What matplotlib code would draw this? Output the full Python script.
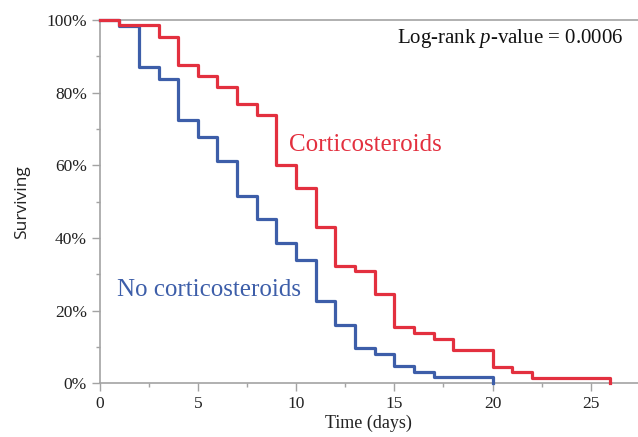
import matplotlib
matplotlib.use("Agg")
import matplotlib.pyplot as plt
from matplotlib.ticker import MultipleLocator, FuncFormatter

plt.rcParams["mathtext.fontset"] = "custom"
plt.rcParams["mathtext.rm"] = "Liberation Serif"
plt.rcParams["mathtext.it"] = "Liberation Serif:italic"

# Data (survival in %)
cort_days = [0, 1, 3, 4, 5, 6, 7, 8, 9, 10, 11, 12, 13, 14, 15, 16, 17, 18, 20, 21, 22, 26]
cort_surv = [100, 98.5, 95.4, 87.7, 84.6, 81.5, 76.9, 73.8, 60.0, 53.8, 43.1, 32.3, 30.8,
             24.6, 15.4, 13.8, 12.3, 9.2, 4.6, 3.1, 1.5, 0]
nocort_days = [0, 1, 2, 3, 4, 5, 6, 7, 8, 9, 10, 11, 12, 13, 14, 15, 16, 17, 20]
nocort_surv = [100, 98.4, 87.1, 83.9, 72.6, 67.7, 61.3, 51.6, 45.2, 38.7, 33.9, 22.6, 16.1,
               9.7, 8.1, 4.8, 3.2, 1.6, 0]
x_ticks = [0, 5, 10, 15, 20, 25]
y_ticks = [0, 20, 40, 60, 80, 100]

RED = "#e3303f"
BLUE = "#3d5ea9"
GRAY = "#a3a3a3"
SERIF = ["Liberation Serif", "DejaVu Serif"]

fig = plt.figure(figsize=(6.38, 4.37), dpi=100)
ax = fig.add_axes([0.1561, 0.1229, 0.8439, 0.8313])

ax.step(nocort_days, nocort_surv, where="post", color=BLUE, lw=2.3, clip_on=False, zorder=3)
ax.step(cort_days, cort_surv, where="post", color=RED, lw=2.3, clip_on=False, zorder=4)

ax.set_xlim(0, 27.4)
ax.set_ylim(0, 100)

ax.xaxis.set_minor_locator(MultipleLocator(2.5))
ax.yaxis.set_minor_locator(MultipleLocator(10))
ax.set_xticks(x_ticks)
ax.set_yticks(y_ticks)
ax.yaxis.set_major_formatter(FuncFormatter(lambda v, p: f"{int(v)}%"))

ax.spines["right"].set_visible(False)
for s in ["left", "bottom", "top"]:
    ax.spines[s].set_color(GRAY)
    ax.spines[s].set_linewidth(1.2)

ax.tick_params(axis="both", which="major", direction="out", length=6, width=1, color=GRAY,
               labelsize=12.5, labelcolor="#222222", pad=3)
ax.tick_params(axis="both", which="minor", direction="out", length=3, width=1, color=GRAY)
for lab in ax.get_xticklabels() + ax.get_yticklabels():
    lab.set_family(SERIF)

ax.set_xlabel("Time (days)", family=SERIF, fontsize=13, color="#222222", labelpad=2)
ax.set_ylabel("Surviving", family=["Open Sans", "DejaVu Sans"], fontsize=12.5, color="#222222", labelpad=12)

ax.text(9.64, 65.6, "Corticosteroids", color=RED, family=SERIF, fontsize=18,
        ha="left", va="center")
ax.text(0.87, 25.7, "No corticosteroids", color=BLUE, family=SERIF, fontsize=18,
        ha="left", va="center")
ax.text(26.65, 95, "Log-rank $\\mathit{p}$-value = 0.0006", color="#111111", family=SERIF,
        fontsize=15, ha="right", va="center")

fig.savefig("out.png", dpi=100)
